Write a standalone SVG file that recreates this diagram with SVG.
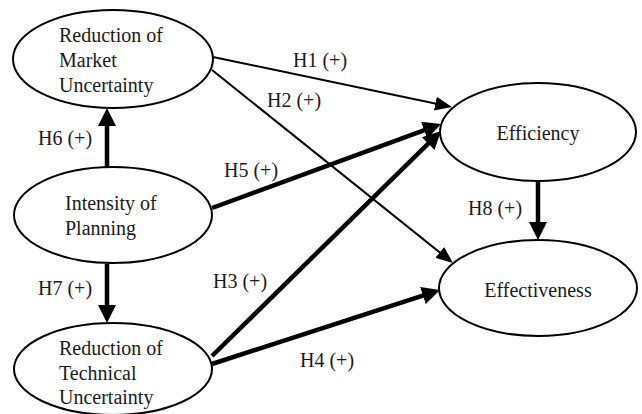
<svg xmlns="http://www.w3.org/2000/svg" width="642" height="414" viewBox="0 0 642 414">
<style>
.node{fill:#fff;stroke:#000;stroke-width:2}
text{font-family:"Liberation Serif","Times New Roman",serif;font-size:20px;fill:#1a1a1a}
.thin{fill:none;stroke:#000;stroke-width:2}
.thick{fill:none;stroke:#000;stroke-width:4.5}
</style>
<defs>
<marker id="ah" markerUnits="userSpaceOnUse" markerWidth="17" markerHeight="14" refX="7" refY="7" orient="auto"><path d="M0,0 L17,7 L0,14 z" fill="#000"/></marker>
<marker id="ahb" markerUnits="userSpaceOnUse" markerWidth="18" markerHeight="18" refX="4" refY="9" orient="auto"><path d="M0,0 L18,9 L0,18 z" fill="#000"/></marker>
</defs>
<rect width="642" height="414" fill="#fff"/>
<g id="connectors">
<path class="thin" d="M213,57 L442.2,105" marker-end="url(#ah)"/>
<path class="thin" d="M212,70 L445.2,256.8" marker-end="url(#ah)"/>
<path class="thick" d="M212,208 L427.9,128.8" marker-end="url(#ahb)"/>
<path class="thick" d="M212,356 L431,140.8" marker-end="url(#ahb)"/>
<path class="thick" d="M212,364 L426.7,294.3" marker-end="url(#ahb)"/>
<path class="thick" d="M107,167 L107,122" marker-end="url(#ahb)"/>
<path class="thick" d="M107,264 L107,309" marker-end="url(#ahb)"/>
<path class="thick" d="M538,182 L538,226" marker-end="url(#ahb)"/>
<text x="293" y="67">H1 (+)</text>
<text x="267" y="107">H2 (+)</text>
<text x="38" y="145">H6 (+)</text>
<text x="224" y="177">H5 (+)</text>
<text x="213" y="288">H3 (+)</text>
<text x="38" y="295">H7 (+)</text>
<text x="300" y="367">H4 (+)</text>
<text x="468" y="215">H8 (+)</text>
</g>
<g id="market">
<ellipse class="node" cx="113" cy="59" rx="100" ry="49"/>
<text x="59" y="42">Reduction of</text>
<text x="59" y="67">Market</text>
<text x="59" y="92">Uncertainty</text>
</g>
<g id="planning">
<ellipse class="node" cx="113" cy="215" rx="99" ry="48"/>
<text x="65" y="210">Intensity of</text>
<text x="65" y="235">Planning</text>
</g>
<g id="technical">
<ellipse class="node" cx="113" cy="369" rx="99" ry="46"/>
<text x="59" y="355">Reduction of</text>
<text x="59" y="380">Technical</text>
<text x="59" y="404">Uncertainty</text>
</g>
<g id="efficiency">
<ellipse class="node" cx="538" cy="132" rx="98" ry="49"/>
<text x="538" y="140" text-anchor="middle">Efficiency</text>
</g>
<g id="effectiveness">
<ellipse class="node" cx="538" cy="288" rx="99" ry="48"/>
<text x="538" y="297" text-anchor="middle">Effectiveness</text>
</g>
</svg>
